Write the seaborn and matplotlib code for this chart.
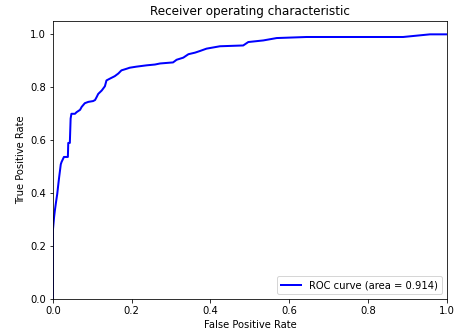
import seaborn as sns
import matplotlib.pyplot as plt
import pandas as pd

fpr = [0.0, 0.0, 0.003, 0.005, 0.008, 0.011, 0.014, 0.016, 0.020, 0.022,
       0.028, 0.038, 0.039, 0.043, 0.045, 0.047, 0.056, 0.060, 0.069, 0.073,
       0.081, 0.090, 0.102, 0.107, 0.111, 0.115, 0.124, 0.132, 0.136, 0.145,
       0.157, 0.166, 0.174, 0.187, 0.195, 0.212, 0.238, 0.259, 0.272, 0.305,
       0.314, 0.331, 0.344, 0.361, 0.373, 0.390, 0.424, 0.483, 0.496, 0.534,
       0.568, 0.644, 0.889, 0.923, 0.957, 1.0]
tpr = [0.0, 0.26, 0.31, 0.335, 0.367, 0.397, 0.437, 0.462, 0.509, 0.518,
       0.537, 0.537, 0.59, 0.59, 0.682, 0.70, 0.70, 0.706, 0.715, 0.726,
       0.74, 0.745, 0.748, 0.752, 0.763, 0.775, 0.788, 0.804, 0.826, 0.833,
       0.842, 0.852, 0.864, 0.87, 0.874, 0.878, 0.883, 0.886, 0.89, 0.894,
       0.904, 0.912, 0.925, 0.931, 0.937, 0.946, 0.955, 0.958, 0.971, 0.977,
       0.986, 0.99, 0.99, 0.995, 1.0, 1.0]
roc_auc = 0.914

df = pd.DataFrame({'fpr': fpr, 'tpr': tpr})

fig, ax = plt.subplots(figsize=(456 / 72, 335 / 72), dpi=72)
fig.subplots_adjust(left=0.116, right=0.980, bottom=0.107, top=0.937)

sns.lineplot(x='fpr', y='tpr', data=df, sort=False, estimator=None,
             color='blue', linewidth=2, ax=ax,
             label=f'ROC curve (area = {roc_auc:.3f})')

ax.set_xlim(0.0, 1.0)
ax.set_ylim(0.0, 1.05)
ax.set_xlabel('False Positive Rate')
ax.set_ylabel('True Positive Rate')
ax.set_title('Receiver operating characteristic')
ax.legend(loc='lower right')

fig.savefig('out.png', dpi=72)
